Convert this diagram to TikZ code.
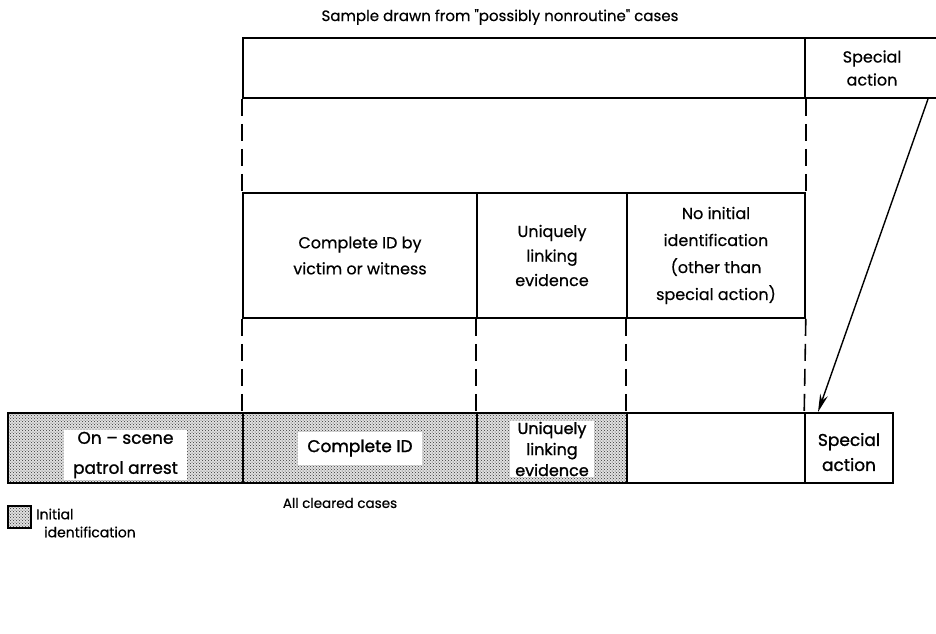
\documentclass[tikz,border=0pt]{standalone}
\usepackage{fontspec}
\setmainfont{Poppins}
\newfontfamily\heavyfont{Poppins}[FakeBold=1.2]
\newfontfamily\semifont{Poppins}[FakeBold=0.5]
\usetikzlibrary{patterns,arrows.meta}
\begin{document}
\begin{tikzpicture}[x=1pt,y=-1pt,
  txt/.style={font=\semifont\fontsize{13.5}{18}\selectfont},
  big/.style={font=\semifont\fontsize{16}{26}\selectfont},
  cell/.style={draw, line width=1.6pt, inner sep=0pt, align=center},
  shaded/.style={preaction={fill=black!12}, pattern=crosshatch dots, pattern color=black!80},
  lbl/.style={fill=white, inner xsep=9pt, inner ysep=4pt, align=center, font=\heavyfont\fontsize{17}{31}\selectfont},
  dsh/.style={line width=1.6pt, dash pattern=on 17pt off 8pt}]
\useasboundingbox (0,0) rectangle (936,633);
% title
\node[font=\semifont\fontsize{15}{18}\selectfont] (title) at (500,17) {Sample drawn from \textquotedbl{}possibly nonroutine\textquotedbl{} cases};
% top bar
\node[cell, minimum width=562pt, minimum height=60pt] (topL) at (524,68) {};
\node[cell, minimum width=134pt, minimum height=60pt, font=\semifont\fontsize{16}{23}\selectfont] (topS) at (872,68) {Special\\action};
% middle row
\node[cell, big, minimum width=234pt, minimum height=125pt] (midA) at (360,255.5) {Complete ID by\\victim or witness};
\node[cell, minimum width=150pt, minimum height=125pt, font=\semifont\fontsize{16}{24.5}\selectfont] (midB) at (552,255.5) {Uniquely\\linking\\evidence};
\node[cell, minimum width=178pt, minimum height=125pt, font=\semifont\fontsize{16}{27}\selectfont] (midC) at (716,255.5) {No initial\\identification\\(other than\\special action)};
% bottom row
\node[cell, shaded, minimum width=235pt, minimum height=70pt] (botP) at (125.5,448) {};
\node[cell, shaded, minimum width=234pt, minimum height=70pt] (botQ) at (360,448) {};
\node[cell, shaded, minimum width=150pt, minimum height=70pt] (botR) at (552,448) {};
\node[cell, minimum width=178pt, minimum height=70pt] (botS) at (716,448) {};
\node[cell, minimum width=88pt, minimum height=70pt] (botT) at (849,448) {};
\node[align=center, inner sep=0pt, font=\heavyfont\fontsize{17}{25}\selectfont] (lblT) at (849,452) {Special\\action};
\node[lbl, inner ysep=2pt, font=\heavyfont\fontsize{17}{30}\selectfont] (lblP) at (125.5,455) {On – scene\\patrol arrest};
\node[lbl, inner ysep=8pt] (lblQ) at (botQ) {Complete ID};
\node[lbl, inner xsep=5pt, inner ysep=1pt, font=\heavyfont\fontsize{16}{21}\selectfont] (lblR) at (552,449) {Uniquely\\linking\\evidence};
% caption below
\node[txt] (cap) at (340,503) {All cleared cases};
% legend
\node[cell, shaded, minimum width=23pt, minimum height=22pt] (leg) at (19.5,517) {};
\node[anchor=west, align=left, inner sep=0pt, font=\semifont\fontsize{14}{18}\selectfont] (legt) at (36,523) {Initial\\\hspace*{8pt}identification};
% dashed connectors
\draw[dsh] (topL.south west) -- (midA.north west);
\draw[dsh] (topL.south east) -- (midC.north east);
\draw[dsh] (midA.south west) -- (botQ.north west);
\draw[dsh] (midB.south west) -- (botR.north west);
\draw[dsh] (midC.south west) -- (botS.north west);
\draw[dsh] (midC.south east) -- (botT.north west);
% arrow
\coordinate (arrS) at (928,99);
\coordinate (arrE) at (818,412);
\draw[line width=1.4pt, -{Stealth[length=18pt,width=8pt]}] (arrS) -- (arrE);
\end{tikzpicture}
\end{document}
